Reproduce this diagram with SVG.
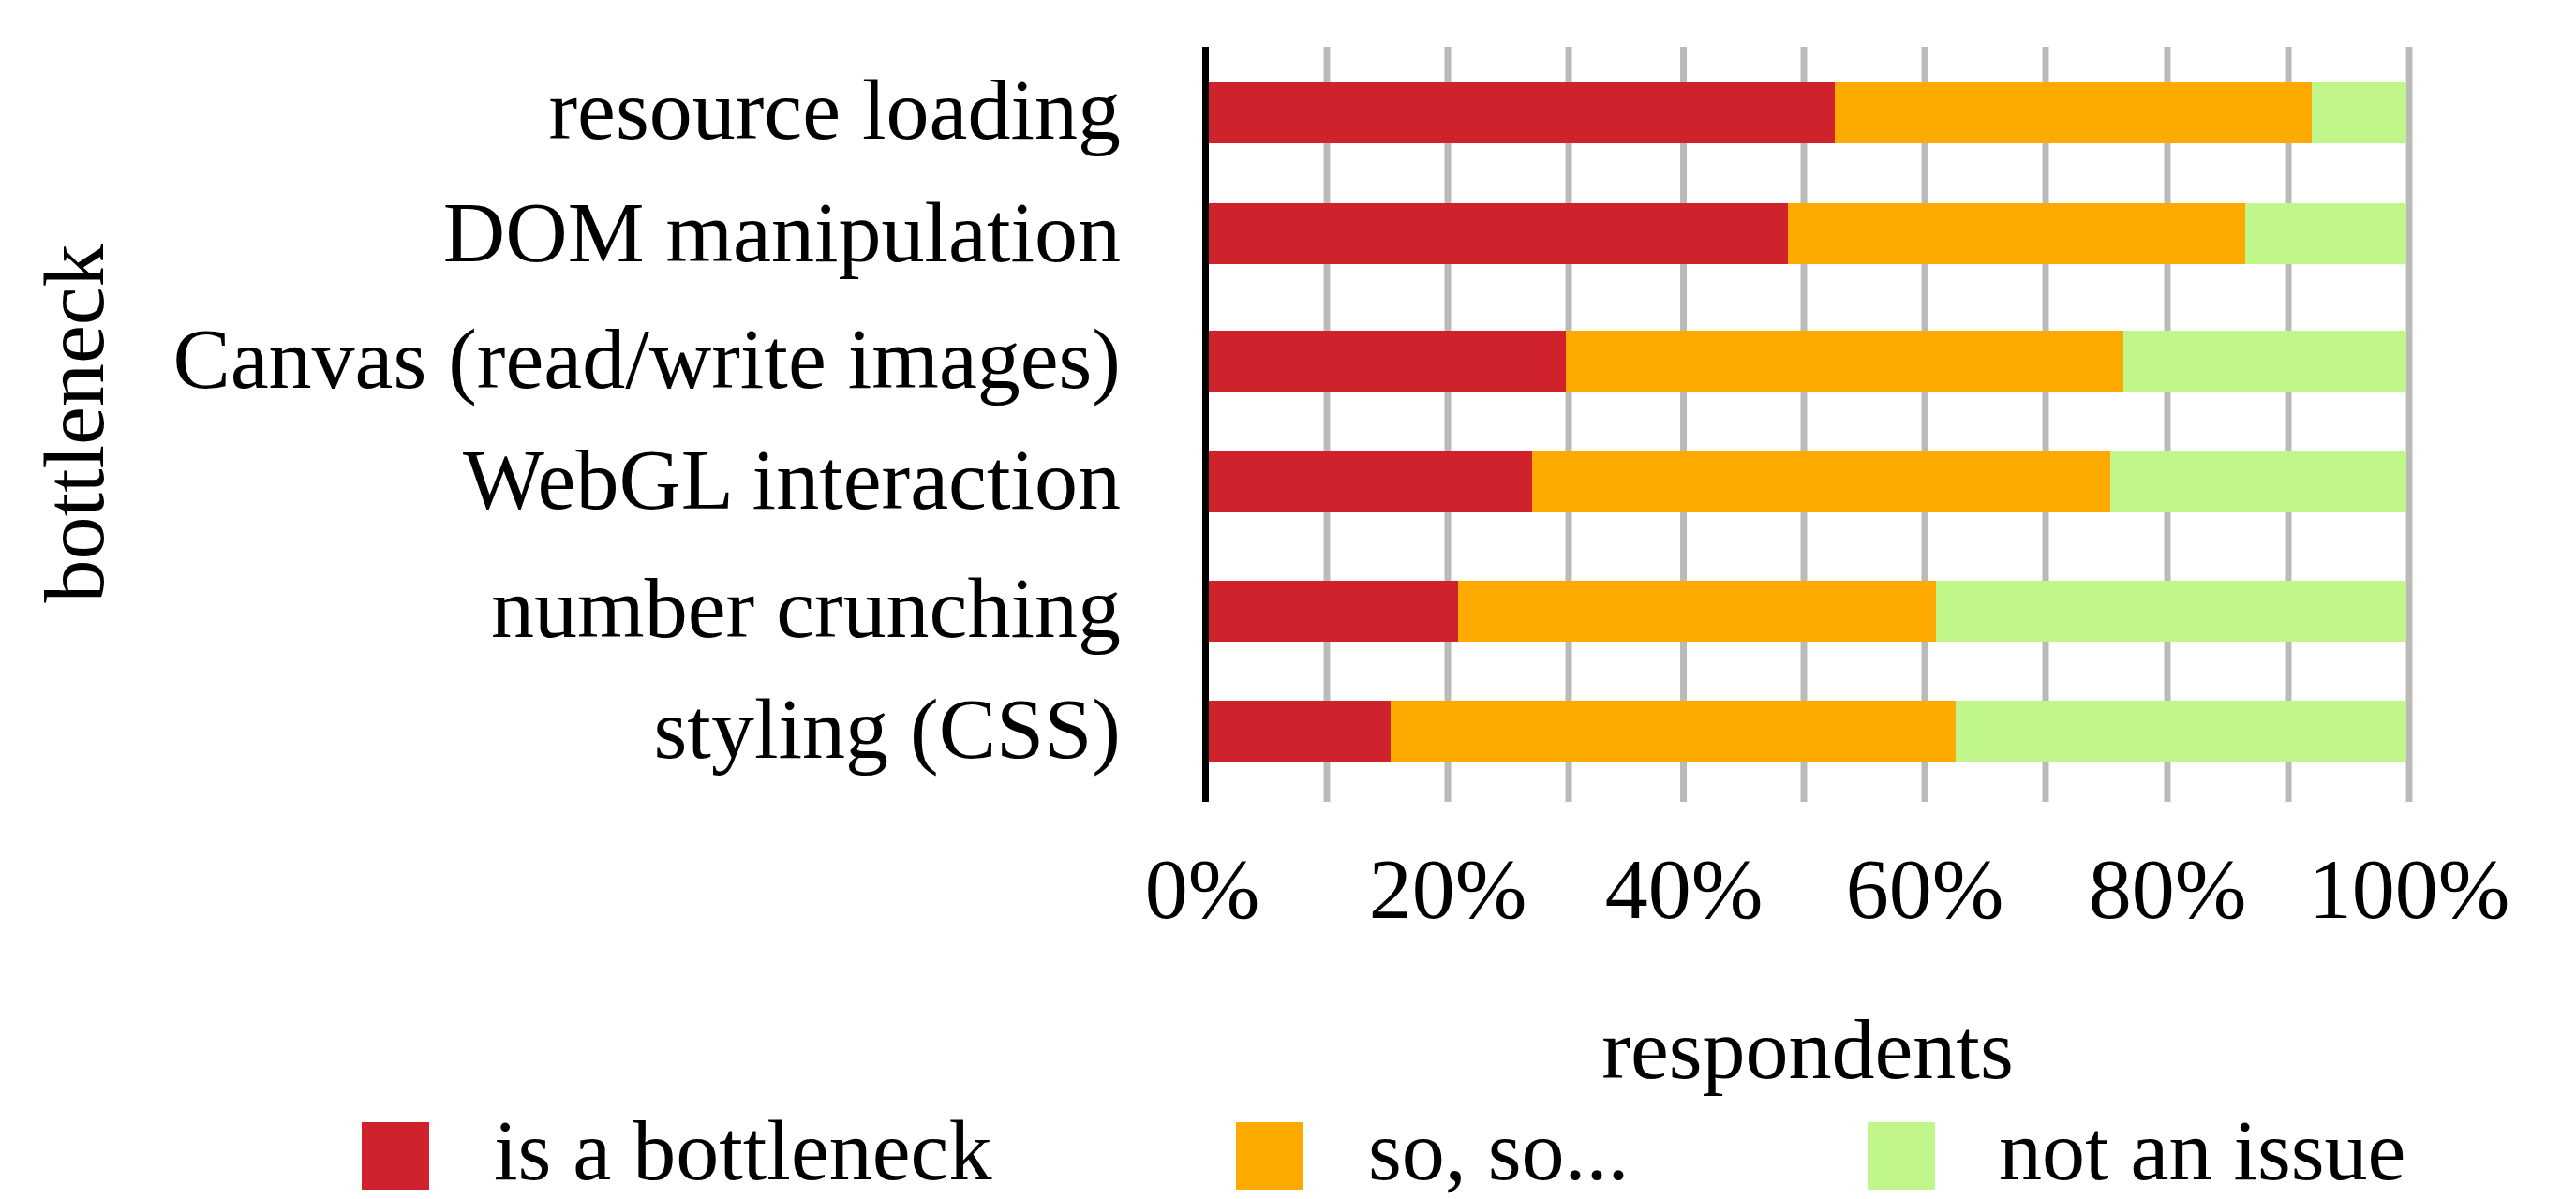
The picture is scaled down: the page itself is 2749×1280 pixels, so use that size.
<svg xmlns="http://www.w3.org/2000/svg" width="2749" height="1280" viewBox="0 0 2749 1280">
<style>
text{font-family:"Liberation Serif","Times New Roman",serif;font-size:92px;fill:#000}
.cat{text-anchor:end}
.tick{text-anchor:middle}
.grid{fill:#bababa}
.r{fill:#cf222c}
.o{fill:#ffaa00}
.g{fill:#c1f78a}
</style>
<rect width="2749" height="1280" fill="#fff"/>
<g id="gridlines">
<rect class="grid" x="1412.5" y="50" width="7" height="806"/>
<rect class="grid" x="1541.5" y="50" width="7" height="806"/>
<rect class="grid" x="1670.5" y="50" width="7" height="806"/>
<rect class="grid" x="1793" y="50" width="7" height="806"/>
<rect class="grid" x="1921.5" y="50" width="7" height="806"/>
<rect class="grid" x="2050.5" y="50" width="7" height="806"/>
<rect class="grid" x="2179.5" y="50" width="7" height="806"/>
<rect class="grid" x="2309.5" y="50" width="7" height="806"/>
<rect class="grid" x="2438.5" y="50" width="7" height="806"/>
<rect class="grid" x="2567.5" y="50" width="7" height="806"/>
</g>
<g id="bar-resource-loading">
<rect class="r" x="1287" y="88" width="671" height="65"/>
<rect class="o" x="1958" y="88" width="509" height="65"/>
<rect class="g" x="2467" y="88" width="101" height="65"/>
<text class="cat" x="1196" y="148">resource loading</text>
</g>
<g id="bar-dom-manipulation">
<rect class="r" x="1287" y="217" width="621" height="65"/>
<rect class="o" x="1908" y="217" width="488" height="65"/>
<rect class="g" x="2396" y="217" width="172" height="65"/>
<text class="cat" x="1196" y="279">DOM manipulation</text>
</g>
<g id="bar-canvas">
<rect class="r" x="1287" y="353" width="384" height="65"/>
<rect class="o" x="1671" y="353" width="595" height="65"/>
<rect class="g" x="2266" y="353" width="302" height="65"/>
<text class="cat" x="1196" y="414">Canvas (read/write images)</text>
</g>
<g id="bar-webgl">
<rect class="r" x="1287" y="482" width="348" height="65"/>
<rect class="o" x="1635" y="482" width="617" height="65"/>
<rect class="g" x="2252" y="482" width="316" height="65"/>
<text class="cat" x="1196" y="543">WebGL interaction</text>
</g>
<g id="bar-number-crunching">
<rect class="r" x="1287" y="620" width="269" height="65"/>
<rect class="o" x="1556" y="620" width="510" height="65"/>
<rect class="g" x="2066" y="620" width="502" height="65"/>
<text class="cat" x="1196" y="680">number crunching</text>
</g>
<g id="bar-styling">
<rect class="r" x="1287" y="748" width="197" height="65"/>
<rect class="o" x="1484" y="748" width="603" height="65"/>
<rect class="g" x="2087" y="748" width="481" height="65"/>
<text class="cat" x="1196" y="809">styling (CSS)</text>
</g>
<g id="axis">
<rect x="1283" y="50" width="7" height="806" fill="#000"/>
<text class="tick" x="1283" y="980">0%</text>
<text class="tick" x="1545" y="980">20%</text>
<text class="tick" x="1797" y="980">40%</text>
<text class="tick" x="2054" y="980">60%</text>
<text class="tick" x="2313" y="980">80%</text>
<text class="tick" x="2571" y="980">100%</text>
<text class="tick" x="1929" y="1151">respondents</text>
<text class="tick" transform="translate(110,452) rotate(-90)">bottleneck</text>
</g>
<g id="legend">
<rect class="r" x="386" y="1198" width="72" height="72"/>
<text x="527" y="1259">is a bottleneck</text>
<rect class="o" x="1319" y="1198" width="72" height="72"/>
<text x="1460" y="1259">so, so...</text>
<rect class="g" x="1993" y="1198" width="72" height="72"/>
<text x="2133" y="1259">not an issue</text>
</g>
</svg>
